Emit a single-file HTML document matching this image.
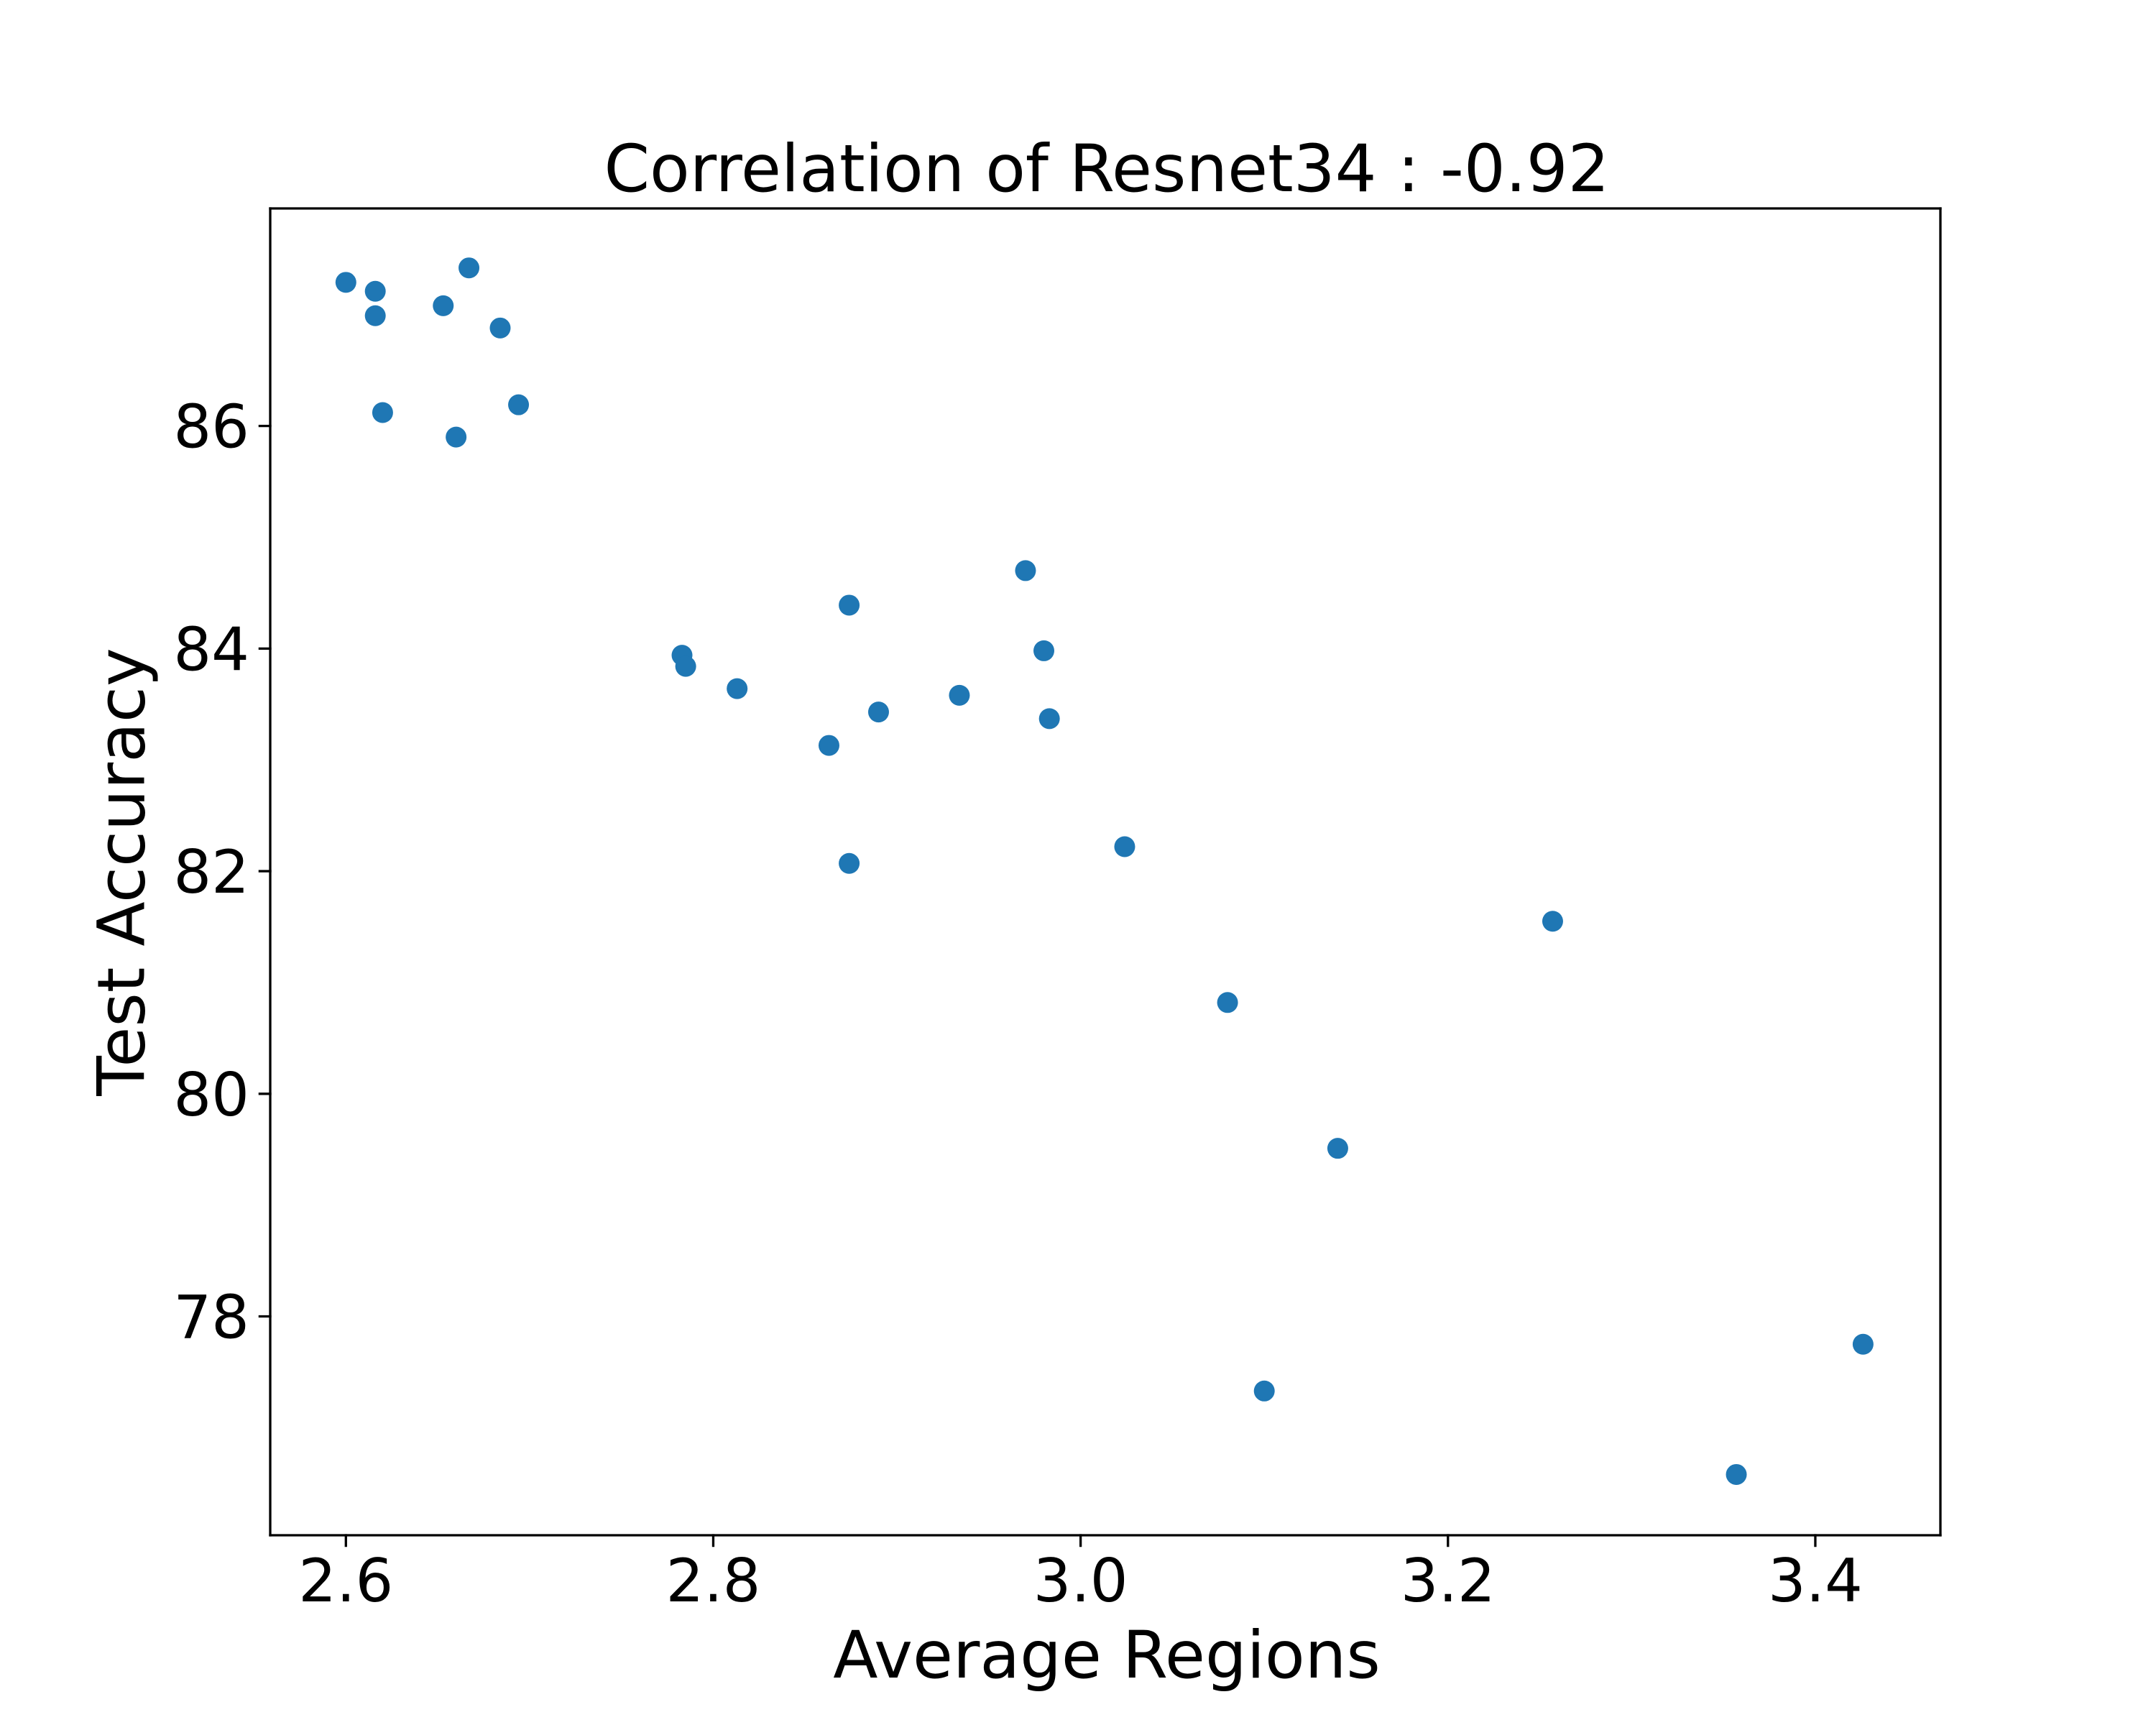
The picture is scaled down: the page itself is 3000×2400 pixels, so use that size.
<!DOCTYPE html>
<html><head><meta charset="utf-8"><style>
html,body{margin:0;padding:0;background:#fff}
svg{display:block}
text{font-family:"DejaVu Sans","Liberation Sans",sans-serif;fill:#000}
</style></head><body>
<svg id="chart" width="3000" height="2400" viewBox="0 0 3000 2400" xmlns="http://www.w3.org/2000/svg">
<rect width="3000" height="2400" fill="#fff"/>
<text x="1540" y="266" font-size="91" text-anchor="middle">Correlation of Resnet34 : -0.92</text>
<g id="points"></g>
<g id="axes"></g>
<text x="1540" y="2334" font-size="91" text-anchor="middle">Average Regions</text>
<text transform="translate(170,1213) rotate(-90)" font-size="91" text-anchor="middle" dominant-baseline="central">Test Accuracy</text>
</svg>
<script>
const avgRegions = [2.600,2.616,2.616,2.667,2.653,2.684,2.620,2.694,2.660,2.970,2.874,2.783,2.785,2.980,2.813,2.934,2.890,2.983,2.863,2.874,3.024,3.257,3.080,3.140,3.426,3.100,3.357];
const testAccuracy = [87.29,87.21,86.99,87.42,87.08,86.88,86.12,86.19,85.90,84.70,84.39,83.94,83.84,83.98,83.64,83.58,83.43,83.37,83.13,82.07,82.22,81.55,80.82,79.51,77.75,77.33,76.58];
const xTicks = [2.6,2.8,3.0,3.2,3.4];
const xTickLabels = ["2.6","2.8","3.0","3.2","3.4"];
const yTicks = [78,80,82,84,86];
const yTickLabels = ["78","80","82","84","86"];

const L=376,R=2700,T=290,B=2136;
const xMin=2.5588,xMax=3.4681,yMin=76.034,yMax=87.954;
function xs(v){return L+(v-xMin)/(xMax-xMin)*(R-L);}
function ys(v){return B-(v-yMin)/(yMax-yMin)*(B-T);}
const NS="http://www.w3.org/2000/svg";
const pts=document.getElementById('points');
avgRegions.forEach((x,i)=>{
  const c=document.createElementNS(NS,'circle');
  c.setAttribute('cx',xs(x));c.setAttribute('cy',ys(testAccuracy[i]));
  c.setAttribute('r',14.5);c.setAttribute('fill','#1f77b4');
  
  
  pts.appendChild(c);
});
const ax=document.getElementById('axes');
function line(x1,y1,x2,y2,name){
  const l=document.createElementNS(NS,'line');
  l.setAttribute('x1',x1);l.setAttribute('y1',y1);l.setAttribute('x2',x2);l.setAttribute('y2',y2);
  l.setAttribute('stroke','#000');l.setAttribute('stroke-width',3.3);l.setAttribute('stroke-linecap','square');
  
  
  ax.appendChild(l);
}
function txt(x,y,s,anchor,name){
  const t=document.createElementNS(NS,'text');
  t.setAttribute('x',x);t.setAttribute('y',y);t.setAttribute('font-size',83);t.setAttribute('text-anchor',anchor);
  t.textContent=s;
  
  
  ax.appendChild(t);
}
line(L,T,R,T,'axes-frame-top');line(L,B,R,B,'axes-frame-bottom');
line(L,T,L,B,'axes-frame-left');line(R,T,R,B,'axes-frame-right');
xTicks.forEach((v,i)=>{line(xs(v),B,xs(v),B+14.6,'x-tick');txt(xs(v),B+92,xTickLabels[i],'middle','x-tick-label');});
yTicks.forEach((v,i)=>{line(L,ys(v),L-14.6,ys(v),'y-tick');txt(L-29,ys(v)+30,yTickLabels[i],'end','y-tick-label');});
</script>
</body></html>
